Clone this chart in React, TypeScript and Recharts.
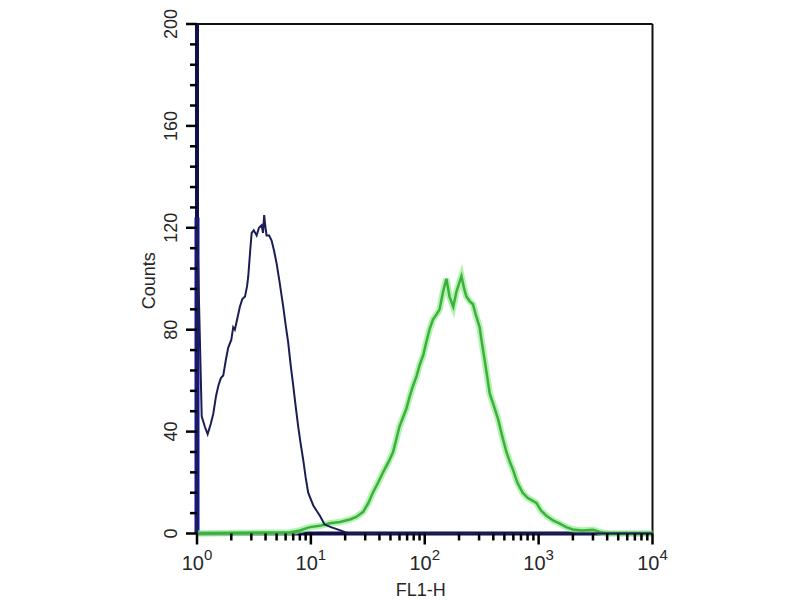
import { LineChart, Line, XAxis, YAxis, ReferenceLine } from 'recharts';

// log-scale fluorescence (FL1-H) vs event counts
const xTicks = [
  1, 2, 3, 4, 5, 6, 7, 8, 9,
  10, 20, 30, 40, 50, 60, 70, 80, 90,
  100, 200, 300, 400, 500, 600, 700, 800, 900,
  1000, 2000, 3000, 4000, 5000, 6000, 7000, 8000, 9000,
  10000,
];
const xMajor = [1, 10, 100, 1000, 10000];
const yTicks = [
  0, 8, 16, 24, 32, 40, 48, 56, 64, 72, 80, 88, 96, 104, 112, 120, 128,
  136, 144, 152, 160, 168, 176, 184, 192, 200,
];
const yMajor = [0, 40, 80, 120, 160, 200];
const xDomain = [1, 10000];
const yDomain = [0, 200];

// isotype control (navy)
const controlData = [
  { x: 1, y: 0 }, { x: 1, y: 124 }, { x: 1.1, y: 46 }, { x: 1.17, y: 42 },
  { x: 1.24, y: 39 }, { x: 1.32, y: 43 }, { x: 1.39, y: 47 }, { x: 1.47, y: 54 },
  { x: 1.54, y: 58 }, { x: 1.62, y: 61 }, { x: 1.7, y: 62 }, { x: 1.79, y: 68 },
  { x: 1.88, y: 73 }, { x: 2.0, y: 76 }, { x: 2.08, y: 81 }, { x: 2.15, y: 80 },
  { x: 2.25, y: 84 }, { x: 2.38, y: 89 }, { x: 2.5, y: 92 }, { x: 2.64, y: 93 },
  { x: 2.75, y: 97 }, { x: 2.82, y: 101 }, { x: 2.92, y: 110 }, { x: 3.02, y: 118 },
  { x: 3.15, y: 119 }, { x: 3.34, y: 117 }, { x: 3.5, y: 120 }, { x: 3.69, y: 121 },
  { x: 3.8, y: 118 }, { x: 3.89, y: 125 }, { x: 3.97, y: 121 }, { x: 4.08, y: 117 },
  { x: 4.3, y: 117 }, { x: 4.52, y: 115 }, { x: 4.75, y: 111 }, { x: 5.0, y: 106 },
  { x: 5.3, y: 99 }, { x: 5.72, y: 89 }, { x: 6.0, y: 82 }, { x: 6.32, y: 75 },
  { x: 6.65, y: 66 }, { x: 7.0, y: 58 }, { x: 7.35, y: 50 }, { x: 7.74, y: 42 },
  { x: 8.15, y: 35 }, { x: 8.56, y: 29 }, { x: 9.0, y: 22 }, { x: 9.47, y: 16 },
  { x: 10.5, y: 11 }, { x: 11.2, y: 9 }, { x: 12, y: 7 }, { x: 13.2, y: 3.5 },
  { x: 15, y: 2.5 }, { x: 17.4, y: 1.5 }, { x: 20, y: 0.5 }, { x: 22, y: 0 },
  { x: 10000, y: 0 },
];

// stained sample (green)
const sampleData = [
  { x: 1, y: 0 }, { x: 6.5, y: 0.4 }, { x: 8, y: 1.2 }, { x: 9.8, y: 2.5 },
  { x: 12, y: 3 }, { x: 14.7, y: 4 }, { x: 18, y: 4.5 }, { x: 22, y: 5.5 },
  { x: 25, y: 6.5 }, { x: 28.8, y: 8.5 }, { x: 32, y: 12 }, { x: 35, y: 16 },
  { x: 39, y: 20 }, { x: 43, y: 24 }, { x: 48, y: 28 }, { x: 52.7, y: 32 },
  { x: 57, y: 38 }, { x: 60, y: 42 }, { x: 65, y: 46 }, { x: 69, y: 49 },
  { x: 74, y: 54 }, { x: 79, y: 58 }, { x: 85, y: 62 }, { x: 90, y: 66 },
  { x: 97, y: 70 }, { x: 103, y: 75 }, { x: 110, y: 80 }, { x: 118, y: 84 },
  { x: 127, y: 86 }, { x: 135, y: 88 }, { x: 145, y: 95 }, { x: 155, y: 100 },
  { x: 165, y: 93 }, { x: 178, y: 89 }, { x: 190, y: 95 }, { x: 210, y: 101 },
  { x: 222, y: 96 }, { x: 232, y: 93 }, { x: 250, y: 91 }, { x: 265, y: 90 },
  { x: 280, y: 86 }, { x: 303, y: 81 }, { x: 320, y: 74 }, { x: 336, y: 68 },
  { x: 355, y: 61 }, { x: 372, y: 55 }, { x: 405, y: 50 }, { x: 440, y: 45 },
  { x: 480, y: 38 }, { x: 521, y: 32 }, { x: 560, y: 28 }, { x: 596, y: 25 },
  { x: 650, y: 20 }, { x: 725, y: 16 }, { x: 800, y: 14 }, { x: 955, y: 12 },
  { x: 1050, y: 9 }, { x: 1170, y: 7 }, { x: 1350, y: 5 }, { x: 1520, y: 4 },
  { x: 1750, y: 2.5 }, { x: 1990, y: 1.6 }, { x: 2400, y: 1.2 }, { x: 3000, y: 1.5 },
  { x: 3500, y: 0.5 }, { x: 4000, y: 0 }, { x: 10000, y: 0 },
];

const edgeData = controlData.slice(0, 2);

const FONT = '"Liberation Sans", Arial, sans-serif';
const TEXT = '#262626';
const AXIS = '#10104a';
const TICK = '#000';

// tick marks drawn as filled rects inside the custom ticks
const renderXTick = (props: any) => {
  const x = Number(props.x);
  const y = Number(props.y);
  const v = props.payload.value;
  const major = xMajor.includes(v);
  return (
    <g key={`xt-${v}`}>
      <rect x={x - 1.25} y={y} width={2.5} height={major ? 11 : 7} fill={TICK} />
      {major && (
        <text x={x} y={y + 36} textAnchor="middle" fontFamily={FONT} fill={TEXT} fontSize={20}>
          <tspan>10</tspan>
          <tspan dy={-10} fontSize={15}>{Math.round(Math.log10(v))}</tspan>
        </text>
      )}
    </g>
  );
};

const renderYTick = (props: any) => {
  const x = Number(props.x);
  const y = Number(props.y);
  const v = props.payload.value;
  const major = yMajor.includes(v);
  const len = major ? 11 : 7;
  const bx = x - 20;
  return (
    <g key={`yt-${v}`}>
      <rect x={x - len} y={y - 1.25} width={len} height={2.5} fill={TICK} />
      {major && (
        <text
          x={bx}
          y={y}
          textAnchor="middle"
          transform={`rotate(-90, ${bx}, ${y})`}
          fontFamily={FONT}
          fill={TEXT}
          fontSize={18}
        >
          {v}
        </text>
      )}
    </g>
  );
};

const renderXLabel = (props: any) => {
  const { viewBox } = props;
  return (
    <text
      x={viewBox.x + viewBox.width / 2 - 4}
      y={viewBox.y + viewBox.height}
      textAnchor="middle"
      fontFamily={FONT}
      fill={TEXT}
      fontSize={18}
    >
      FL1-H
    </text>
  );
};

const renderYLabel = (props: any) => {
  const { viewBox } = props;
  const lx = viewBox.x + 18;
  const ly = viewBox.y + viewBox.height / 2 + 2;
  return (
    <text
      x={lx}
      y={ly}
      textAnchor="middle"
      transform={`rotate(-90, ${lx}, ${ly})`}
      fontFamily={FONT}
      fill={TEXT}
      fontSize={18}
    >
      Counts
    </text>
  );
};

export default function App() {
  return (
    <div style={{ width: 784, height: 592, background: '#fff' }}>
      <LineChart
        width={784}
        height={592}
        margin={{ top: 16, right: 139.5, bottom: 4.5, left: 129 }}
      >
        <XAxis
          type="number"
          scale="log"
          dataKey="x"
          domain={xDomain}
          ticks={xTicks}
          interval={0}
          height={62}
          tickSize={0}
          tickMargin={0}
          tickLine={false}
          tick={renderXTick}
          axisLine={false}
          label={{ content: renderXLabel }}
        />
        <YAxis
          type="number"
          domain={yDomain}
          ticks={yTicks}
          interval={0}
          width={60}
          tickSize={0}
          tickMargin={0}
          tickLine={false}
          tick={renderYTick}
          axisLine={false}
          label={{ content: renderYLabel }}
        />
        {/* frame: thin black top/right, thick navy bottom/left */}
        <ReferenceLine y={yDomain[1]} stroke="#111" strokeWidth={2} />
        <ReferenceLine x={xDomain[1]} stroke="#111" strokeWidth={2} />
        <ReferenceLine y={yDomain[0]} stroke={AXIS} strokeWidth={4} />
        <ReferenceLine x={xDomain[0]} stroke={AXIS} strokeWidth={4} />
        <Line
          data={edgeData}
          dataKey="y"
          type="linear"
          stroke="#15158c"
          strokeWidth={5}
          dot={false}
          isAnimationActive={false}
        />
        <Line
          data={sampleData}
          dataKey="y"
          type="linear"
          stroke="#8ff08f"
          strokeOpacity={0.7}
          strokeWidth={6.5}
          dot={false}
          isAnimationActive={false}
        />
        <Line
          data={sampleData}
          dataKey="y"
          type="linear"
          stroke="#3fae3f"
          strokeWidth={2.5}
          dot={false}
          isAnimationActive={false}
        />
        <Line
          data={controlData}
          dataKey="y"
          type="linear"
          stroke="#1d1d55"
          strokeWidth={2}
          dot={false}
          isAnimationActive={false}
        />
      </LineChart>
    </div>
  );
}
